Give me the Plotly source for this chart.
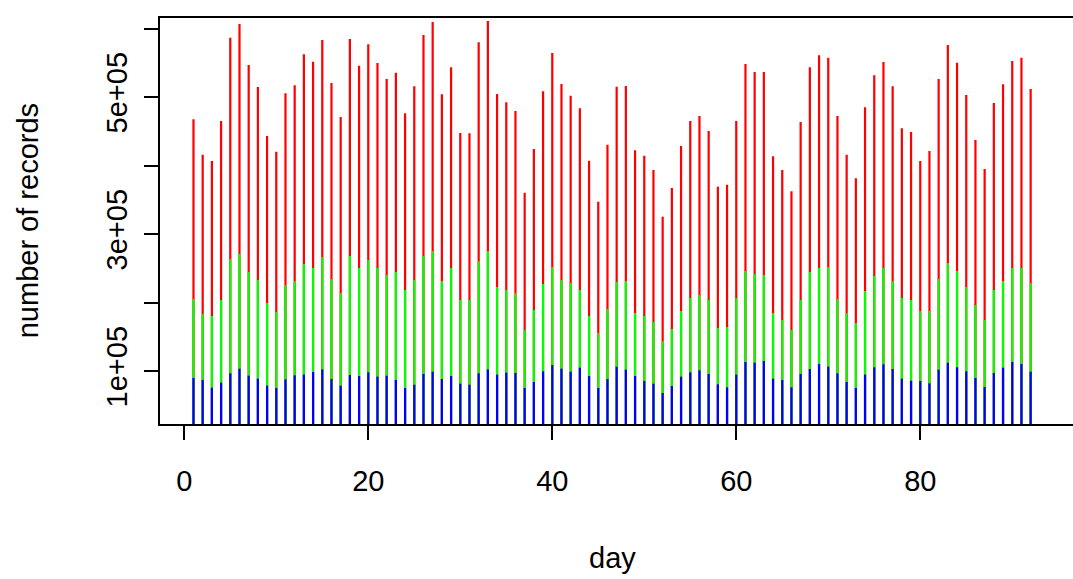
import plotly.graph_objects as go

days = list(range(1, 93))

total = [467500, 415800, 406600, 465000, 586600, 606600, 546800, 514700, 443100, 420200,
         505500, 517100, 562400, 551600, 583300, 520500, 470900, 584700, 545800, 577000,
         549700, 526300, 535500, 476300, 515700, 590600, 609600, 504000, 543400, 447500,
         447000, 579900, 611000, 504400, 492300, 479600, 360300, 424100, 508400, 564300,
         519000, 502000, 483500, 407000, 347200, 430400, 515100, 516100, 422200, 414400,
         393500, 325300, 367200, 428500, 465000, 472300, 450400, 369100, 372000, 465000,
         548200, 536600, 536600, 413500, 393500, 362400, 463600, 543400, 560900, 557400,
         472300, 415800, 381300, 485000, 531700, 551200, 515700, 454300, 449000, 406600,
         421200, 526300, 576000, 550100, 503000, 437300, 394900, 491300, 518600, 552600,
         557400, 511700]

middle = [205100, 183200, 180300, 203700, 263500, 270800, 244600, 232900, 199300, 186200,
          225600, 231400, 256200, 250400, 266500, 234300, 213900, 267900, 250400, 262100,
          250400, 240200, 244600, 218300, 232900, 267900, 275200, 231400, 250400, 203700,
          203700, 260600, 275200, 222700, 218300, 213900, 159900, 189100, 227000, 251900,
          232900, 228500, 218300, 180300, 155500, 190500, 230000, 231400, 184700, 180300,
          171600, 143800, 161300, 187600, 206600, 211000, 203700, 162800, 164300, 206600,
          246000, 241600, 240200, 184700, 174500, 159900, 203700, 244600, 250400, 251900,
          205100, 184700, 170100, 216800, 238700, 250400, 231400, 206600, 203700, 187600,
          187600, 234300, 257700, 246000, 222700, 196400, 174500, 218300, 231400, 250400,
          250400, 228500]

bottom = [89800, 86900, 75700, 83000, 96600, 103400, 93200, 88800, 78600, 75200,
          87800, 93700, 94700, 98600, 102400, 88300, 78600, 94200, 92700, 98100,
          91700, 93200, 86900, 75200, 80000, 95600, 99000, 88300, 92700, 81500,
          80000, 96600, 102400, 94700, 97600, 97100, 75200, 84000, 99500, 108800,
          103400, 99000, 104900, 92700, 75200, 88300, 106300, 101900, 92700, 85400,
          81500, 67900, 78100, 91700, 98100, 101000, 95600, 80600, 76200, 94700,
          113200, 112100, 114600, 88800, 86900, 76200, 95600, 102900, 110200, 106300,
          96600, 84000, 75200, 94700, 105400, 109800, 102900, 88800, 85800, 85400,
          82000, 101900, 112100, 105400, 99500, 89800, 76600, 97100, 104900, 113200,
          110200, 99000]

x_ticks = [0, 20, 40, 60, 80]
y_ticks = [100000, 200000, 300000, 400000, 500000, 600000]
y_tick_labels = ["1e+05", "", "3e+05", "", "5e+05", ""]

FONT = "Liberation Sans, Arial, sans-serif"
BAR_W = 0.24

fig = go.Figure()
for vals, col in [(total, "#FF0000"), (middle, "#00FF00"), (bottom, "#0000FF")]:
    fig.add_trace(go.Bar(x=days, y=vals, width=BAR_W, marker=dict(color=col, line=dict(width=0)),
                         hoverinfo="skip", showlegend=False))

FIG_W = 1078
plot_h = 579 - 18 - 155
plot_w = FIG_W - 160

fig.update_layout(
    width=FIG_W, height=579,
    margin=dict(l=160, r=0, t=18, b=155),
    barmode="overlay",
    plot_bgcolor="white", paper_bgcolor="white",
    font=dict(family=FONT, size=29, color="black"),
    xaxis=dict(range=[-2.64, 96.93], tickvals=x_ticks, ticks="outside", ticklen=14,
               tickwidth=1.5, tickcolor="black", showline=True, linecolor="black",
               linewidth=1.5, mirror=True, showgrid=False, zeroline=False,
               ticklabelstandoff=16),
    yaxis=dict(range=[22630, 615400], tickvals=y_ticks, ticktext=y_tick_labels,
               tickangle=-90, ticks="outside", ticklen=14, tickwidth=1.5, tickcolor="black",
               showline=True, linecolor="black", linewidth=1.5, mirror=True,
               showgrid=False, zeroline=False, ticklabelstandoff=6),
    annotations=[
        dict(text="day", x=(613 - 160) / plot_w, y=(424 - 558) / plot_h, xref="paper",
             yref="paper", showarrow=False, font=dict(size=29), xanchor="center",
             yanchor="middle"),
        dict(text="number of records", x=(28 - 160) / plot_w, y=0.5, xref="paper",
             yref="paper", textangle=-90, showarrow=False, font=dict(size=29),
             xanchor="center", yanchor="middle"),
    ],
)

fig.write_html("out.html", config={"displayModeBar": False},
               post_script="document.body.style.margin='0';document.body.style.overflow='hidden';")
